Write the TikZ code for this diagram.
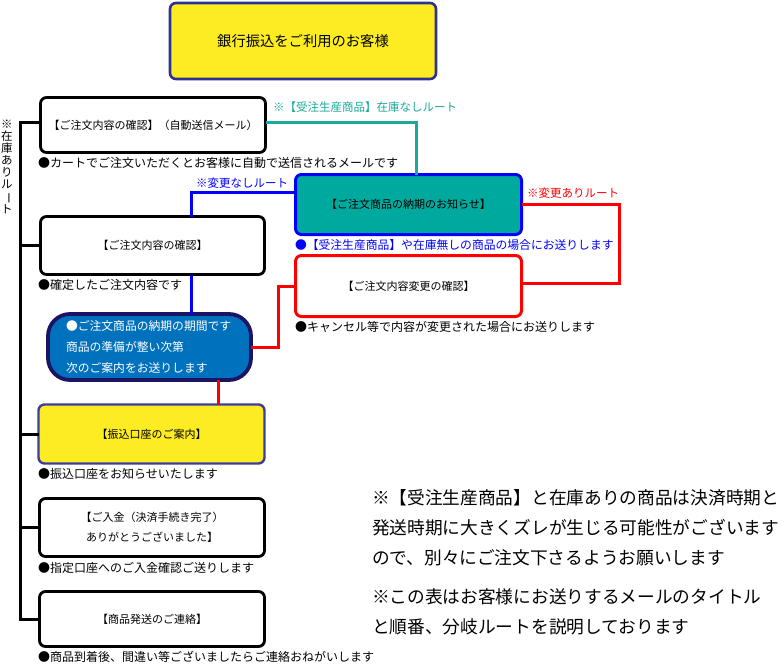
\documentclass[tikz,border=0pt]{standalone}
\usepackage{fontspec}
\setmainfont{Noto Sans CJK JP}
\definecolor{topyellow}{HTML}{FCEC21}
\definecolor{navyb}{HTML}{2E3192}
\definecolor{tealf}{HTML}{00A99D}
\definecolor{tealline}{HTML}{1AA99C}
\definecolor{roundf}{HTML}{0071BC}
\definecolor{roundb}{HTML}{1B1464}
\definecolor{ybord}{HTML}{3D3D9E}
\begin{document}
\begin{tikzpicture}[x=1pt,y=-1pt,
  every node/.style={inner sep=0pt, outer sep=0pt},
  boxw/.style={draw=black, fill=white, rounded corners=6pt, line width=2.8pt, font=\fontsize{11}{14}\selectfont, align=center},
  captxt/.style={anchor=west, font=\fontsize{12}{14}\selectfont},
  conn/.style={line width=3pt},
  lbl/.style={anchor=west, font=\fontsize{11.5}{14}\selectfont}]
\useasboundingbox (0,0) rectangle (784,664);
\fill[white] (0,0) rectangle (784,664);

% top box
\node[draw=navyb, fill=topyellow, rounded corners=6pt, line width=2.6pt, minimum width=266pt, minimum height=76pt, font=\fontsize{14.3}{16}\selectfont] (top) at (303,41) {銀行振込をご利用のお客様};

% left column boxes
\node[boxw, minimum width=225pt, minimum height=55pt] (b1) at (153,125) {【ご注文内容の確認】（自動送信メール）};
\node[boxw, minimum width=224pt, minimum height=58pt] (b2) at (152.5,245.5) {【ご注文内容の確認】};
\node[draw=roundb, fill=roundf, rounded corners=22pt, line width=3.8pt, minimum width=203pt, minimum height=66pt] (rb) at (149.5,347) {};
\node[anchor=west, text=white, font=\fontsize{11.8}{14}\selectfont] (rt1) at (66,326) {●ご注文商品の納期の期間です};
\node[anchor=west, text=white, font=\fontsize{11.8}{14}\selectfont] (rt2) at (66,347) {商品の準備が整い次第};
\node[anchor=west, text=white, font=\fontsize{11.8}{14}\selectfont] (rt3) at (66,368) {次のご案内をお送りします};
\node[draw=ybord, fill=topyellow, rounded corners=6pt, line width=2.4pt, minimum width=226pt, minimum height=59pt, font=\fontsize{11}{14}\selectfont] (yb) at (151.5,434) {【振込口座のご案内】};
\node[boxw, minimum width=225pt, minimum height=58pt, font=\fontsize{11}{20}\selectfont] (b5) at (152,527.5) {【ご入金（決済手続き完了）\\ありがとうございました】};
\node[boxw, minimum width=225pt, minimum height=55pt] (b6) at (152,619) {【商品発送のご連絡】};

% right column boxes
\node[draw=blue, fill=tealf, rounded corners=6pt, line width=3pt, minimum width=226pt, minimum height=60pt, font=\fontsize{11}{14}\selectfont] (tb) at (408.5,204.5) {【ご注文商品の納期のお知らせ】};
\node[draw=red, fill=white, rounded corners=6pt, line width=3pt, minimum width=226pt, minimum height=61pt, font=\fontsize{11}{14}\selectfont] (redb) at (408.5,286) {【ご注文内容変更の確認】};

% captions
\node[captxt] (c1) at (38,163) {●カートでご注文いただくとお客様に自動で送信されるメールです};
\node[captxt] (c2) at (38,285) {●確定したご注文内容です};
\node[captxt] (c3) at (38,474) {●振込口座をお知らせいたします};
\node[captxt] (c5) at (38,568) {●指定口座へのご入金確認ご送りします};
\node[captxt] (c6) at (38,657) {●商品到着後、間違い等ございましたらご連絡おねがいします};
\node[captxt, text=blue, font=\fontsize{11.8}{14}\selectfont] (ct) at (295,245) {●【受注生産商品】や在庫無しの商品の場合にお送りします};
\node[captxt] (cr) at (295,327) {●キャンセル等で内容が変更された場合にお送りします};

% route labels
\node[lbl, text=tealline] (lt) at (273,107) {※【受注生産商品】在庫なしルート};
\node[lbl, text=blue] (lb) at (196,183) {※変更なしルート};
\node[lbl, text=red] (lr) at (527,193) {※変更ありルート};

% vertical label
\node[font=\fontsize{11.5}{12}\selectfont, align=center] (vl) at (7,167) {※\\在\\庫\\あ\\り\\ル\\\rotatebox[origin=c]{-90}{ー}\\ト};

% connectors
\coordinate (sp) at (20,0);
\coordinate (tx) at (416,0);
\coordinate (rx) at (619,0);
\coordinate (lx) at (278,0);
\draw[conn, tealline] ([yshift=3pt]b1.east) -| (tx |- tb.north);
\draw[conn, blue] ([yshift=12pt]tb.west) -| ([xshift=38.5pt]b2.north);
\draw[conn, blue] ([xshift=38.5pt]b2.south) -- ([xshift=38.5pt]b2.south |- rb.north);
\draw[conn, red] (tb.east) -- (rx |- tb.east) |- ([yshift=3pt]redb.east);
\draw[conn, red] (redb.west) -- (lx |- redb.west) |- (rb.east);
\draw[conn, red] ([xshift=68.5pt]rb.south) -- ([xshift=68.5pt]rb.south |- yb.north);
\draw[conn, black] ([yshift=3pt]b1.west) -| (sp |- b6.west) -- (b6.west);
\draw[conn, black] (sp |- b2.west) -- (b2.west);
\draw[conn, black] (sp |- yb.west) -- (yb.west);
\draw[conn, black] (sp |- b5.west) -- (b5.west);

% notes
\node[anchor=west, align=left, font=\fontsize{17.7}{30}\selectfont] (n1) at (372,528) {※【受注生産商品】と在庫ありの商品は決済時期と\\発送時期に大きくズレが生じる可能性がございます\\ので、別々にご注文下さるようお願いします};
\node[anchor=west, align=left, font=\fontsize{17.7}{30}\selectfont] (n2) at (372,612) {※この表はお客様にお送りするメールのタイトル\\と順番、分岐ルートを説明しております};
\end{tikzpicture}
\end{document}
